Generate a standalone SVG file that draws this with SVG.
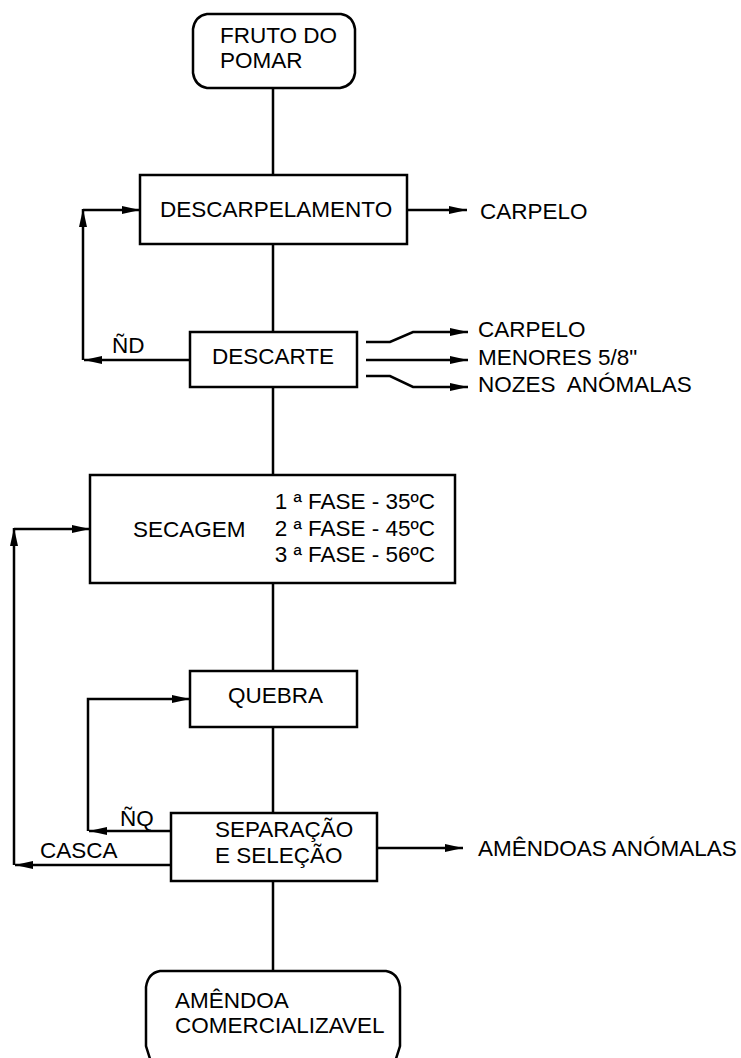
<svg xmlns="http://www.w3.org/2000/svg" width="741" height="1058" viewBox="0 0 741 1058">
<style>
.box{fill:#fff;stroke:#000;stroke-width:2.5}
.ln{fill:none;stroke:#000;stroke-width:2.5}
.t{font-family:"Liberation Sans",Arial,sans-serif;font-size:22.5px;fill:#000}
.pre{white-space:pre}
</style>
<defs>
<marker id="ah" markerUnits="userSpaceOnUse" markerWidth="20" markerHeight="10" refX="18" refY="4.5" orient="auto">
<path d="M0,0.5 L18,4.5 L0,8.5 Z" fill="#000"/>
</marker>
</defs>
<rect width="741" height="1058" fill="#fff"/>
<g id="connectors">
<path class="ln" d="M273,88 V175 M273,244 V332 M273,387 V475 M273,583 V671 M273,727 V813 M273,881 V971"/>
<path class="ln" d="M190,360 H84" marker-end="url(#ah)"/>
<path class="ln" d="M83,360 V209" marker-end="url(#ah)"/>
<path class="ln" d="M83,210 H140" marker-end="url(#ah)"/>
<path class="ln" d="M407,210 H467" marker-end="url(#ah)"/>
<path class="ln" d="M366,342 H390 L413,332 H468" marker-end="url(#ah)"/>
<path class="ln" d="M366,360 H468" marker-end="url(#ah)"/>
<path class="ln" d="M366,376 H390 L413,387 H468" marker-end="url(#ah)"/>
<path class="ln" d="M170,865 H15" marker-end="url(#ah)"/>
<path class="ln" d="M14,865 V528" marker-end="url(#ah)"/>
<path class="ln" d="M14,529 H90" marker-end="url(#ah)"/>
<path class="ln" d="M170,831 H89" marker-end="url(#ah)"/>
<path class="ln" d="M88,831 V699 H190" marker-end="url(#ah)"/>
<path class="ln" d="M377,848 H463" marker-end="url(#ah)"/>
<text class="t" x="112" y="353">ÑD</text>
<text class="t" x="120" y="826">ÑQ</text>
<text class="t" x="40" y="858">CASCA</text>
<text class="t" x="480" y="219">CARPELO</text>
<text class="t" x="478" y="337">CARPELO</text>
<text class="t" x="478" y="365">MENORES 5/8"</text>
<text class="t pre" x="478" y="392" xml:space="preserve">NOZES  ANÓMALAS</text>
<text class="t" x="478" y="856">AMÊNDOAS ANÓMALAS</text>
</g>
<g id="fruto">
<path class="box" d="M207,14 H341 Q353,16 355,29 V73 Q353,86 340,88 H207 Q195,86 193,73 V29 Q195,16 207,14 Z"/>
<text class="t" x="220" y="43">FRUTO DO</text>
<text class="t" x="220" y="68">POMAR</text>
</g>
<g id="descarpelamento">
<rect class="box" x="140" y="175" width="267" height="69"/>
<text class="t" x="160" y="217">DESCARPELAMENTO</text>
</g>
<g id="descarte">
<rect class="box" x="190" y="332" width="167" height="55"/>
<text class="t" x="212" y="364">DESCARTE</text>
</g>
<g id="secagem">
<rect class="box" x="90" y="475" width="365" height="108"/>
<text class="t" x="133" y="537">SECAGEM</text>
<text class="t" x="435" y="509" text-anchor="end">1 ª FASE - 35ºC</text>
<text class="t" x="435" y="536" text-anchor="end">2 ª FASE - 45ºC</text>
<text class="t" x="435" y="562" text-anchor="end">3 ª FASE - 56ºC</text>
</g>
<g id="quebra">
<rect class="box" x="190" y="671" width="167" height="56"/>
<text class="t" x="228" y="703">QUEBRA</text>
</g>
<g id="separacao">
<rect class="box" x="171" y="813" width="206" height="68"/>
<text class="t" x="215" y="837">SEPARAÇÃO</text>
<text class="t" x="215" y="863">E SELEÇÃO</text>
</g>
<g id="amendoa">
<path class="box" d="M151,1062 L146,1046 V987 Q148,973 160,971 H386 Q398,973 400,987 V1046 L395,1062"/>
<text class="t" x="175" y="1008">AMÊNDOA</text>
<text class="t" x="175" y="1033">COMERCIALIZAVEL</text>
</g>
</svg>
